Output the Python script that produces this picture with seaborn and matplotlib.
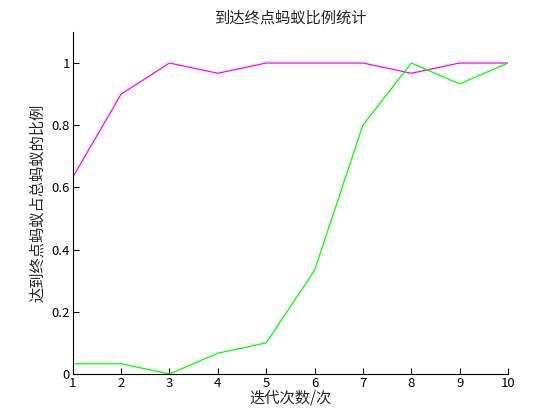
import matplotlib
matplotlib.use("Agg")
import matplotlib.pyplot as plt
import pandas as pd
import seaborn as sns

iterations = [1, 2, 3, 4, 5, 6, 7, 8, 9, 10]
ratio_magenta = [0.633, 0.9, 1.0, 0.967, 1.0, 1.0, 1.0, 0.967, 1.0, 1.0]
ratio_green = [0.033, 0.033, 0.0, 0.067, 0.1, 0.333, 0.8, 1.0, 0.933, 1.0]
y_ticks = [0, 0.2, 0.4, 0.6, 0.8, 1.0]
y_tick_labels = ["0", "0.2", "0.4", "0.6", "0.8", "1"]

title = "到达终点蚂蚁比例统计"
x_label = "迭代次数/次"
y_label = "达到终点蚂蚁占总蚂蚁的比例"

sns.set_theme(style="ticks")
plt.rcParams["font.family"] = ["Noto Sans CJK SC", "DejaVu Sans"]
plt.rcParams["xtick.direction"] = "in"
plt.rcParams["ytick.direction"] = "in"

data = pd.DataFrame({"iter": iterations, "magenta": ratio_magenta, "green": ratio_green})

fig = plt.figure(figsize=(5.6, 4.2), dpi=100)
ax = fig.add_axes([0.130, 0.1095, 0.777, 0.8145])

sns.lineplot(data=data, x="iter", y="magenta", color="#ff00ff", linewidth=0.9, ax=ax)
sns.lineplot(data=data, x="iter", y="green", color="#00ff00", linewidth=0.9, ax=ax)

ax.set_xlim(1, 10)
ax.set_ylim(0, 1.1)
ax.set_xticks(iterations)
ax.set_xticklabels([str(i) for i in iterations])
ax.set_yticks(y_ticks)
ax.set_yticklabels(y_tick_labels)
ax.tick_params(labelsize=9.5, length=4, width=0.8, colors="black", pad=2)
sns.despine(ax=ax)
for side in ["left", "bottom"]:
    ax.spines[side].set_color("black")
    ax.spines[side].set_linewidth(0.8)

ax.set_title(title, fontsize=11, pad=7)
ax.set_xlabel(x_label, fontsize=11, labelpad=0)
ax.set_ylabel(y_label, fontsize=11, labelpad=4)

fig.savefig("out.png", dpi=100)
